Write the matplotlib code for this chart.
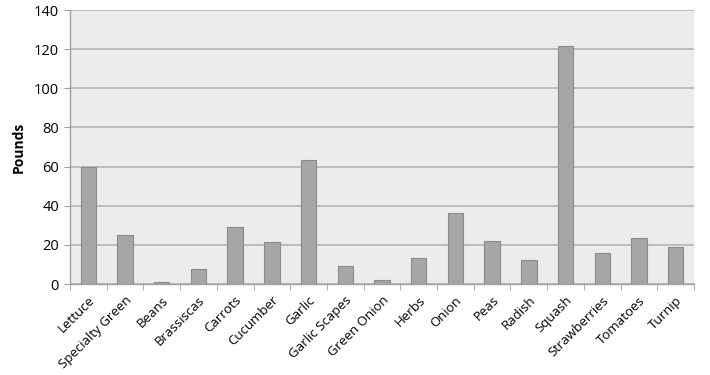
import matplotlib.pyplot as plt
import numpy as np

plt.rcParams['font.family'] = ['Open Sans', 'DejaVu Sans']

crops = ["Lettuce", "Specialty Green", "Beans", "Brassiscas", "Carrots", "Cucumber",
         "Garlic", "Garlic Scapes", "Green Onion", "Herbs", "Onion", "Peas", "Radish",
         "Squash", "Strawberries", "Tomatoes", "Turnip"]
pounds = [60, 25, 1, 7.7, 29, 21.6, 63.4, 9.2, 2, 13.4, 36.1, 22.1, 12.4, 121.6, 15.8, 23.3, 19]

fig = plt.figure(figsize=(7.1, 3.75), dpi=100)
ax = fig.add_axes([70/710, 1 - 284/375, 624/710, 274/375])
ax.set_facecolor('#ececec')

x = np.arange(len(crops))
ax.bar(x, pounds, width=0.42, color='#a6a6a6', edgecolor='#8a8a8a', linewidth=0.8, zorder=3)

ax.set_xlim(-0.5, len(crops) - 0.5)
ax.set_ylim(0, 140)
ax.set_yticks(np.arange(0, 141, 20))
ax.yaxis.grid(True, color='#b4b4b4', linewidth=1.2, zorder=1)

ax.set_xticks(x)
ax.set_xticklabels(crops, rotation=45, ha='right', rotation_mode='anchor', fontsize=9.5)
ax.tick_params(axis='x', length=0, pad=7)
ax.set_xticks(np.arange(-0.5, len(crops)), minor=True)
ax.tick_params(axis='x', which='minor', length=4, color='#a0a0a0', direction='out')
ax.tick_params(axis='y', length=4, color='#a0a0a0', labelsize=10.5, pad=4)

for s in ['top', 'right']:
    ax.spines[s].set_visible(False)
for s in ['left', 'bottom']:
    ax.spines[s].set_color('#a0a0a0')
    ax.spines[s].set_linewidth(1.0)

ax.set_ylabel("Pounds", fontweight='bold', fontsize=10, labelpad=6)

fig.savefig("out.png", dpi=100)
